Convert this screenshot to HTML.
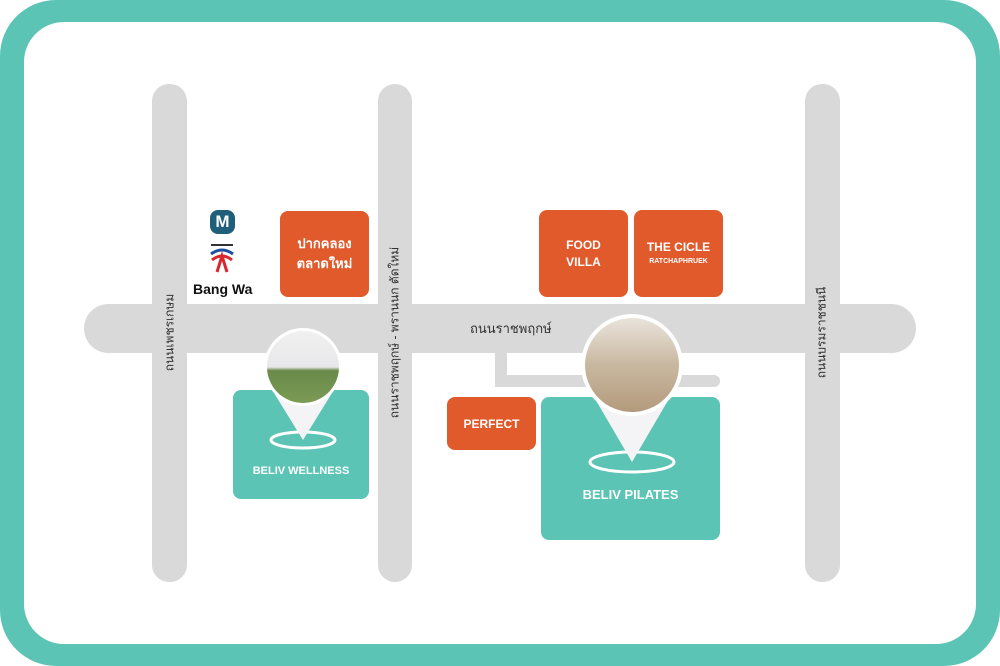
<!DOCTYPE html>
<html><head><meta charset="utf-8"><style>
*{margin:0;padding:0;box-sizing:border-box}
body{width:1000px;height:666px;background:#fff;position:relative;overflow:hidden;font-family:"Liberation Sans","Noto Sans CJK SC",sans-serif}
.outer{position:absolute;left:0;top:0;width:1000px;height:666px;background:#5bc4b4;border-radius:56px}
.inner{position:absolute;left:24px;top:22px;width:952px;height:622px;background:#fff;border-radius:40px}
.r{position:absolute;background:#d9d9d9}
.o{position:absolute;background:#e05a2b;border-radius:8px;color:#fff;font-weight:bold;display:flex;flex-direction:column;align-items:center;justify-content:center;text-align:center}
.t{position:absolute;background:#5bc4b4;border-radius:8px;color:#fff;font-weight:bold;text-align:center}
.v{position:absolute;transform:rotate(-90deg);white-space:nowrap;font-size:12px;color:#333;transform-origin:center}
</style></head><body>
<div class="outer"></div>
<div class="inner"></div>
<div class="r" style="left:152px;top:84px;width:35px;height:498px;border-radius:17px"></div>
<div class="r" style="left:378px;top:84px;width:34px;height:498px;border-radius:17px"></div>
<div class="r" style="left:805px;top:84px;width:35px;height:498px;border-radius:17px"></div>
<div class="r" style="left:84px;top:304px;width:832px;height:49px;border-radius:25px"></div>
<div class="r" style="left:495px;top:350px;width:12px;height:37px"></div>
<div class="r" style="left:495px;top:375px;width:225px;height:12px;border-radius:0 6px 6px 6px"></div>
<div class="v" style="left:110px;top:323px;width:120px;text-align:center">ถนนเพชรเกษม</div>
<div class="v" style="left:295px;top:323px;width:200px;text-align:center">ถนนราชพฤกษ์ - พรานนก ตัดใหม่</div>
<div class="v" style="left:772px;top:323px;width:100px;text-align:center">ถนนบรมราชชนนี</div>
<div style="position:absolute;left:470px;top:318px;font-size:13px;color:#333">ถนนราชพฤกษ์</div>
<div style="position:absolute;left:210px;top:210px;width:25px;height:24px;border-radius:8px;background:#1f5f7a;color:#fff;font-weight:bold;font-size:17px;text-align:center;line-height:24px">M</div>
<svg style="position:absolute;left:208px;top:244px" width="28" height="30"><rect x="3" y="0" width="22" height="2" fill="#333"/><path d="M3 10 Q14 2 25 10" stroke="#1d4fa0" stroke-width="3" fill="none"/><path d="M4 16 Q14 8 24 16" stroke="#d9262c" stroke-width="3" fill="none"/><path d="M9 28 L14 12 L19 28" stroke="#d9262c" stroke-width="3" fill="none"/></svg>
<div style="position:absolute;left:193px;top:281px;font-weight:bold;font-size:14px;color:#111">Bang Wa</div>
<div class="o" style="left:280px;top:211px;width:89px;height:86px;font-size:13px;line-height:20px">ปากคลอง<br>ตลาดใหม่</div>
<div class="o" style="left:539px;top:210px;width:89px;height:87px;font-size:12px;line-height:17px">FOOD<br>VILLA</div>
<div class="o" style="left:634px;top:210px;width:89px;height:87px;font-size:12px;line-height:17px">THE CICLE<span style="font-size:7px;line-height:12px">RATCHAPHRUEK</span></div>
<div class="o" style="left:447px;top:397px;width:89px;height:53px;font-size:12px">PERFECT</div>
<div class="t" style="left:233px;top:390px;width:136px;height:109px;font-size:11px;padding-top:75px">BELIV WELLNESS</div>
<div class="t" style="left:541px;top:397px;width:179px;height:143px;font-size:13px;padding-top:90px">BELIV PILATES</div>
<svg style="position:absolute;left:0;top:0" width="1000" height="666">
<defs>
<linearGradient id="g1" x1="0" y1="0" x2="0" y2="1"><stop offset="0" stop-color="#f0f0f0"/><stop offset=".5" stop-color="#e8e8ea"/><stop offset=".55" stop-color="#6a8a4a"/><stop offset="1" stop-color="#7a9a55"/></linearGradient>
<linearGradient id="g2" x1="0" y1="0" x2="0" y2="1"><stop offset="0" stop-color="#e9e3dc"/><stop offset=".5" stop-color="#c9b8a0"/><stop offset="1" stop-color="#b39a7c"/></linearGradient>
</defs>
<ellipse cx="303" cy="440" rx="32" ry="8" fill="none" stroke="#fff" stroke-width="3"/>
<path d="M266 380 L303 440 L340 380 Z" fill="#f4f4f6"/>
<circle cx="303" cy="367" r="39" fill="#fff"/>
<circle cx="303" cy="367" r="36" fill="url(#g1)"/>
<ellipse cx="632" cy="462" rx="42" ry="10" fill="none" stroke="#fff" stroke-width="3"/>
<path d="M584 380 L632 462 L680 380 Z" fill="#f4f4f6"/>
<circle cx="632" cy="365" r="51" fill="#fff"/>
<circle cx="632" cy="365" r="47" fill="url(#g2)"/>
</svg>
</body></html>
